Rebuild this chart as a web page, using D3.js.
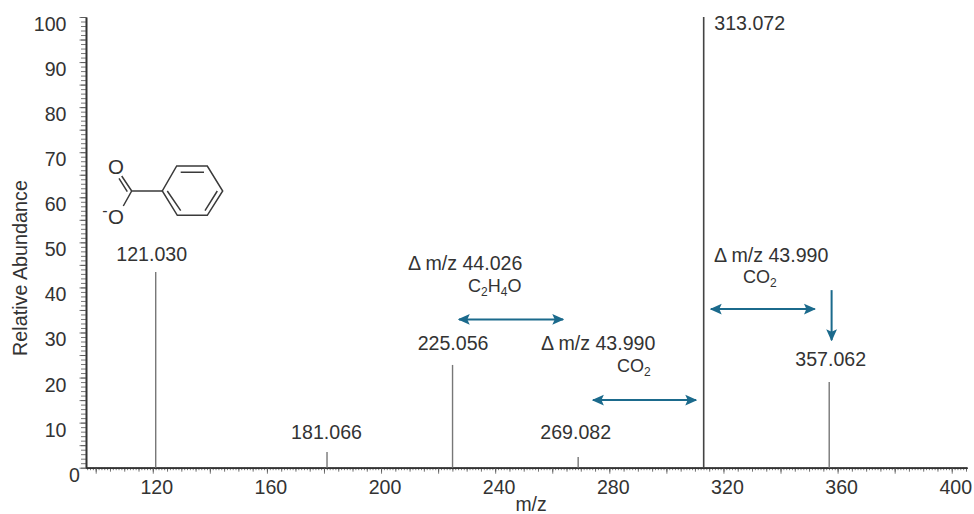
<!DOCTYPE html>
<html>
<head>
<meta charset="utf-8">
<script src="https://cdn.jsdelivr.net/npm/d3@7"></script>
<style>
  html, body { margin: 0; padding: 0; background: #fff; }
  text { font-family: "Liberation Sans", Arial, sans-serif; fill: #333; }
</style>
</head>
<body>
<div id="chart"></div>
<script>
// Peaks
const peakMz = [121.03, 181.066, 225.056, 269.082, 313.072, 357.062];
const peakAbundance = [43.4, 3.5, 22.8, 2.4, 100, 19];
const peakLabels = ["121.030", "181.066", "225.056", "269.082", "313.072", "357.062"];

const xTicks = [120, 160, 200, 240, 280, 320, 360, 400];
const yTicks = [0, 10, 20, 30, 40, 50, 60, 70, 80, 90, 100];

// Neutral loss arrows, in m/z and abundance
const lossFrom = [227.3, 274.3, 315.6];
const lossTo = [263.8, 310.4, 352];
const lossLevel = [32.9, 15, 35.2];

const width = 974, height = 514;
const teal = "#1b6a8c";
const labelSize = 19.6;

const svg = d3.select("#chart")
    .append("svg")
    .attr("width", width)
    .attr("height", height)
    .style("display", "block");

const x = d3.scaleLinear().domain([96.6, 405.35]).range([86, 967]);
const y = d3.scaleLinear().domain([0, 100]).range([467.7, 17]);

svg.append("defs").append("marker")
    .attr("id", "head")
    .attr("viewBox", "0 0 10 10")
    .attr("refX", 9)
    .attr("refY", 5)
    .attr("markerUnits", "userSpaceOnUse")
    .attr("markerWidth", 12)
    .attr("markerHeight", 12)
    .attr("orient", "auto-start-reverse")
    .append("path")
    .attr("d", "M0,0.5L10,5L0,9.5L2,5Z")
    .attr("fill", teal);

// Minor ticks first, then the longer ones on top
const xMinor = d3.range(97, 406);
const xMid = xMinor.filter(d => d % 5 === 0);
const xLong = xMinor.filter(d => d % 20 === 0);
[[xMinor, 2.5], [xMid, 4], [xLong, 6]].forEach(([vals, size]) => {
    svg.append("g")
        .attr("transform", `translate(0,${y(0)})`)
        .call(d3.axisBottom(x).tickValues(vals).tickSize(size).tickSizeOuter(0).tickFormat(""))
        .call(g => g.selectAll("line").attr("stroke", "#555").attr("stroke-width", 0.8))
        .call(g => g.select(".domain").attr("stroke", "#333").attr("stroke-width", 1.6));
});

const yMinor = d3.range(0, 101);
const yMid = yMinor.filter(d => d % 5 === 0);
[[yMinor, 5], [yMid, 6.5]].forEach(([vals, size]) => {
    svg.append("g")
        .attr("transform", `translate(${x(96.6)},0)`)
        .call(d3.axisLeft(y).tickValues(vals).tickSize(size).tickSizeOuter(0).tickFormat(""))
        .call(g => g.selectAll("line").attr("stroke", "#555").attr("stroke-width", 0.8))
        .call(g => g.select(".domain").attr("stroke", "#333").attr("stroke-width", 1.6));
});

// Tick labels sit a little off their ticks in the original
svg.append("g").selectAll("text")
    .data(xTicks)
    .enter()
    .append("text")
    .attr("x", d => x(d) + 4)
    .attr("y", 493.5)
    .attr("text-anchor", "middle")
    .attr("font-size", labelSize)
    .text(d => d);

// The 0 sits closer to the axis than the other labels
svg.append("g").selectAll("text")
    .data(yTicks)
    .enter()
    .append("text")
    .attr("x", d => d === 0 ? 80 : 66.5)
    .attr("y", d => y(d) + 14)
    .attr("text-anchor", "end")
    .attr("font-size", labelSize)
    .text(d => d);

// Axis titles
svg.append("text")
    .attr("x", 531)
    .attr("y", 511)
    .attr("text-anchor", "middle")
    .attr("font-size", 19.4)
    .text("m/z");

svg.append("text")
    .attr("transform", "translate(26.5,268) rotate(-90)")
    .attr("text-anchor", "middle")
    .attr("font-size", 19.8)
    .text("Relative Abundance");

// Peaks
svg.append("g").selectAll("line")
    .data(peakMz)
    .enter()
    .append("line")
    .attr("x1", d => x(d))
    .attr("x2", d => x(d))
    .attr("y1", y(0))
    .attr("y2", (d, i) => y(peakAbundance[i]))
    .attr("stroke", (d, i) => peakAbundance[i] === 100 ? "#444" : "#777")
    .attr("stroke-width", (d, i) => peakAbundance[i] === 100 ? 1.6 : 1.4);

// Peak labels, nudged per label to clear the arrows
const labelDx = [-4, -0.5, 0.5, -2.5, 46, 1.5];
const labelBase = [261, 439, 350, 439, 30, 366];
svg.append("g").selectAll("text")
    .data(peakLabels)
    .enter()
    .append("text")
    .attr("x", (d, i) => x(peakMz[i]) + labelDx[i])
    .attr("y", (d, i) => labelBase[i])
    .attr("text-anchor", "middle")
    .attr("font-size", labelSize)
    .text(d => d);

// Double headed arrows for the losses
svg.append("g").selectAll("line")
    .data(lossFrom)
    .enter()
    .append("line")
    .attr("x1", d => x(d))
    .attr("x2", (d, i) => x(lossTo[i]))
    .attr("y1", (d, i) => y(lossLevel[i]))
    .attr("y2", (d, i) => y(lossLevel[i]))
    .attr("stroke", teal)
    .attr("stroke-width", 2)
    .attr("marker-start", "url(#head)")
    .attr("marker-end", "url(#head)");

// Arrow down to the 357 peak
svg.append("line")
    .attr("x1", x(357.9))
    .attr("x2", x(357.9))
    .attr("y1", y(39.4))
    .attr("y2", y(28.3))
    .attr("stroke", teal)
    .attr("stroke-width", 2)
    .attr("marker-end", "url(#head)");

// Delta labels
[[408, 270, "44.026"], [541, 350, "43.990"], [714, 262, "43.990"]].forEach(([px, py, val]) => {
    svg.append("text")
        .attr("x", px)
        .attr("y", py)
        .attr("font-size", labelSize)
        .text("\u0394 m/z " + val);
});

// Formula with subscripts
function formula(px, py, parts) {
    const t = svg.append("text").attr("x", px).attr("y", py).attr("font-size", 18);
    parts.forEach(p => {
        if (/\d/.test(p)) {
            t.append("tspan").attr("font-size", 12).attr("dy", 4).text(p);
        } else {
            t.append("tspan").attr("dy", t.selectAll("tspan").size() ? -4 : 0).text(p);
        }
    });
}
formula(468, 296, ["C", "2", "H", "4", "O"]);
formula(617, 376, ["CO", "2"]);
formula(743, 287, ["CO", "2"]);

// Benzoate structure
const mol = svg.append("g")
    .attr("stroke", "#3a3a3a")
    .attr("stroke-width", 1.5)
    .attr("fill", "none");
mol.append("path").attr("d", "M176.7,166H207.3L222.7,191L207.3,215.3H177.3L162.3,191Z");
mol.append("path").attr("d", "M180.7,172.3H204M217.3,191L205,210.7M167.3,191L180.7,210.7");
mol.append("path").attr("d", "M162.3,191H131.7L123.3,206M131.7,191L121.7,176M127.3,191.7L119,178.3");
[[116, 174], [116, 223.5]].forEach(([px, py]) => {
    svg.append("text").attr("x", px).attr("y", py)
        .attr("text-anchor", "middle")
        .attr("font-size", 20.5)
        .text("O");
});
svg.append("text").attr("x", 105).attr("y", 216)
    .attr("text-anchor", "middle")
    .attr("font-size", 16)
    .text("-");
</script>
</body>
</html>
